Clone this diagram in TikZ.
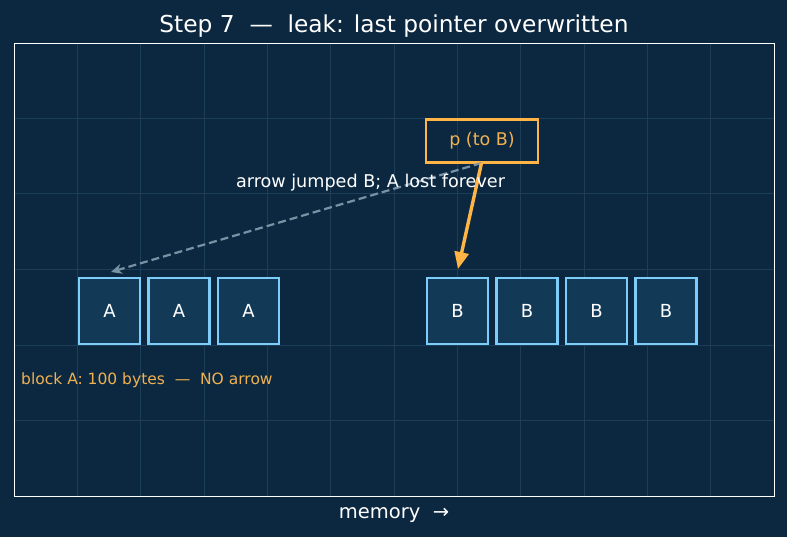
\documentclass[tikz,border=0pt]{standalone}
\usepackage{fontspec}
\setmainfont{DejaVu Sans}
\usetikzlibrary{arrows.meta}
\definecolor{bg}{RGB}{12,40,64}
\definecolor{gridc}{RGB}{28,62,88}
\definecolor{cellfill}{RGB}{18,58,87}
\definecolor{celledge}{RGB}{125,205,250}
\definecolor{orng}{RGB}{255,180,70}
\definecolor{orngtxt}{RGB}{240,178,80}
\definecolor{dashc}{RGB}{120,145,165}
\tikzset{
  cell/.style={draw=celledge, line width=2.6pt, fill=cellfill, minimum width=61pt, minimum height=66pt, inner sep=0pt, text=white, font=\fontsize{18}{21}\selectfont},
  ptrbox/.style={draw=orng, line width=2.8pt, minimum width=112pt, minimum height=43pt, inner sep=0pt, text=orngtxt, font=\fontsize{17.5}{21}\selectfont},
}
\begin{document}
\begin{tikzpicture}[x=1pt,y=-1pt]
\fill[bg] (0,0) rectangle (787,537);
\useasboundingbox (0,0) rectangle (787,537);
% grid
\foreach \i in {1,...,11} \draw[gridc, line width=1pt] ({14+760*\i/12},43) -- ({14+760*\i/12},496);
\foreach \j in {1,...,5} \draw[gridc, line width=1pt] (14,{43+453*\j/6}) -- (774,{43+453*\j/6});
\draw[white, line width=0.9pt] (14,43) rectangle (774,496);
% title
\node[text=white, font=\fontsize{23.3}{27}\selectfont] (title) at (394,26) {Step 7\ \ —\ \ leak: last pointer overwritten};
% cells
\node[cell] (a1) at (109.5,311) {A};
\node[cell] (a2) at (179,311) {A};
\node[cell] (a3) at (248.5,311) {A};
\node[cell] (b1) at (457.5,311) {B};
\node[cell] (b2) at (527,311) {B};
\node[cell] (b3) at (596.5,311) {B};
\node[cell] (b4) at (666,311) {B};
% pointer
\node[ptrbox] (p) at (482,141) {p (to B)};
\coordinate (pstart) at (481.5,163);
\coordinate (aend) at (111,272);
\coordinate (bend) at (458,269);
\draw[dashc, line width=2.2pt, dash pattern=on 8pt off 4pt, -{Stealth[length=11pt,width=10pt]}] (pstart) -- (aend);
\draw[orng, line width=3.4pt, -{Stealth[length=17pt,width=14pt,inset=0pt]}] (pstart) -- (bend);
% labels
\node[text=white, font=\fontsize{17.6}{21}\selectfont] (lbl) at (370.5,183) {arrow jumped B; A lost forever};
\node[text=orngtxt, font=\fontsize{15.5}{18}\selectfont, anchor=west, inner sep=0pt] (note) at (21,380) {block A: 100 bytes\ \ —\ \ NO arrow};
\node[text=white, font=\fontsize{19.5}{23}\selectfont] (mem) at (394,515) {memory\ \ →};
\end{tikzpicture}
\end{document}
